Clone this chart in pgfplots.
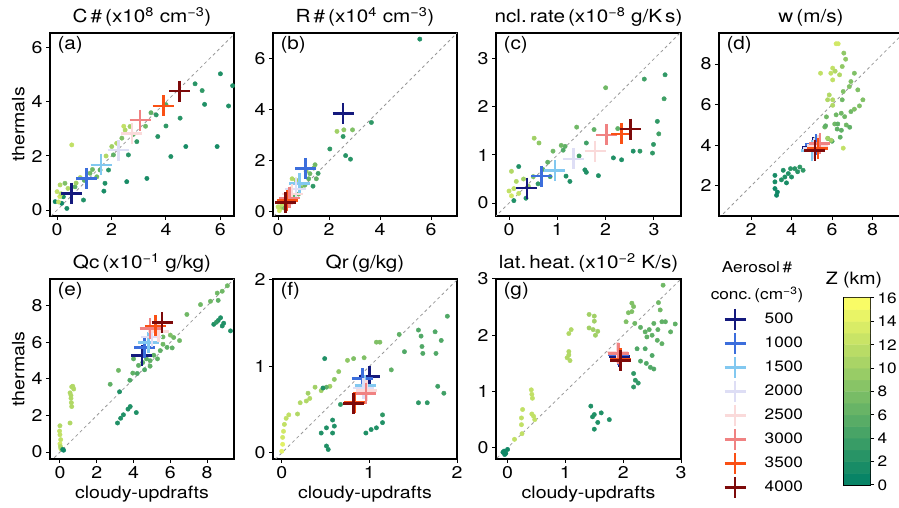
\documentclass[border=0pt]{standalone}
\usepackage{pgfplots}
\pgfplotsset{compat=1.18}
\usepackage{fontspec}
\setmainfont{TeX Gyre Heros}[FakeStretch=1.15]

\definecolor{c500}{RGB}{20,25,125}
\definecolor{c1000}{RGB}{60,110,220}
\definecolor{c1500}{RGB}{130,200,240}
\definecolor{c2000}{RGB}{222,222,245}
\definecolor{c2500}{RGB}{250,218,218}
\definecolor{c3000}{RGB}{240,130,130}
\definecolor{c3500}{RGB}{250,80,20}
\definecolor{c4000}{RGB}{125,10,10}

\pgfplotsset{
  colormap={summer}{rgb=(0,0.5,0.4) rgb=(1,1,0.4)},
  panel/.style={scale only axis, anchor=south west, width=184pt, height=183pt,
    axis line style={line width=1.3pt}, xtick pos=left, ytick pos=left,
    tick align=outside, major tick length=4pt, tick style={black, line width=1pt},
    /pgf/number format/assume math mode=true,
    tick label style={font=\fontsize{17}{20}\selectfont},
    title style={font=\fontsize{18}{20}\selectfont, yshift=-3pt},
    label style={font=\fontsize{17}{20}\selectfont},
    point meta min=0, point meta max=16},
  dots/.style={scatter, only marks, mark=*, mark size=2.2pt, point meta=explicit,
    scatter/use mapped color={draw=mapped color, fill=mapped color}, forget plot},
  diag/.style={dashed, gray!80, line width=0.8pt, forget plot},
  cross/.style={only marks, mark=+, mark size=10.5pt, color=#1,
    mark options={line width=2.6pt}},
}
\newcommand{\crosses}[8]{%
  \addplot[cross=c500] coordinates {#1};
  \addplot[cross=c1000] coordinates {#2};
  \addplot[cross=c1500] coordinates {#3};
  \addplot[cross=c2000] coordinates {#4};
  \addplot[cross=c2500] coordinates {#5};
  \addplot[cross=c3000] coordinates {#6};
  \addplot[cross=c3500] coordinates {#7};
  \addplot[cross=c4000] coordinates {#8};
}
\newcommand{\plabel}[1]{\node[anchor=north west, inner sep=0pt, font=\fontsize{18}{20}\selectfont] at (rel axis cs:0.04,0.985) {#1};}

\begin{document}
\begin{tikzpicture}
\useasboundingbox (0,0) rectangle (899pt,508pt);

%% (a) cloud droplet number
\begin{axis}[panel, at={(50pt,292pt)},
  xmin=-0.26, xmax=6.5, ymin=-0.22, ymax=6.55,
  xtick={0,2,4,6}, ytick={0,2,4,6},
  title={C\,\#\,(x10\textsuperscript{8} cm\textsuperscript{−3})},
  ylabel={thermals}]
\addplot[diag] coordinates {(-1,-1) (7,7)};
\addplot[dots] table[meta=z] {
x y z
6.0 5.04 2
5.07 4.67 2.5
5.33 4.42 3
5.42 3.91 2
6.3 3.85 2
6.45 4.6 2
4.52 3.40 2.5
3.64 3.52 3
4.0 3.11 3
3.7 2.72 2.5
4.73 2.35 1.5
5.88 2.35 1.5
4.18 1.98 2
3.3 1.17 1.5
2.56 1.05 1.5
1.72 0.70 1.5
2.62 2.04 2.5
2.93 2.53 3
1.76 0.99 2
1.89 1.48 2.5
0.97 0.37 2
0.36 0.06 1.5
0.17 0.25 1
-0.07 0.31 1
0.23 0.49 2
3.25 3.1 7
2.8 2.8 6
2.38 2.66 8
2.07 2.04 6
1.58 1.48 6
1.46 1.23 7
1.21 1.36 7
0.66 0.86 6
0.29 0.99 8
1.0 1.1 6
1.3 1.5 7
3.45 3.6 6
4.0 3.9 5
0.54 2.41 12
0.11 0.93 11
0.0 0.68 12
0.1 0.5 13
0.05 0.3 12
0.15 0.6 11
0.4 0.8 11
0.7 1.0 10
0.85 1.2 11
2.01 2.35 10
2.19 2.47 11
2.5 2.96 11
2.68 3.09 10
2.45 3.1 12
1.8 2.0 11
};
\crosses{(0.54,0.62)}{(1.09,1.17)}{(1.62,1.67)}{(2.25,2.22)}{(2.75,2.84)}{(3.05,3.33)}{(3.9,3.85)}{(4.5,4.4)}
\plabel{(a)}
\end{axis}

%% (b) rain drop number
\begin{axis}[panel, at={(273pt,292pt)},
  xmin=-0.2, xmax=7.02, ymin=-0.16, ymax=7.02,
  xtick={0,2,4,6}, ytick={0,2,4,6},
  title={R\,\#\,(x10\textsuperscript{4} cm\textsuperscript{−3})}]
\addplot[diag] coordinates {(-1,-1) (8,8)};
\addplot[dots] table[meta=z] {
x y z
5.56 6.78 2
3.66 3.51 3
2.31 3.16 10
2.58 3.22 9
2.92 3.22 8
2.55 2.96 3
2.03 2.47 3
2.65 2.21 2.5
2.84 2.07 2.5
1.45 1.85 7
1.4 1.72 8
1.57 1.51 4
1.37 1.01 3
1.2 1.3 6
1.05 1.05 7
0.9 0.95 8
0.7 1.25 10
0.55 1.3 11
0.8 0.7 7
0.6 0.6 6
0.5 0.9 12
0.35 0.6 11
0.2 0.4 12
0.1 0.15 10
0.25 0.15 8
0.05 0.05 13
0.15 0.3 12
0.4 0.3 9
1.25 1.5 7
1.5 1.3 6
1.1 1.6 9
0.0 0.2 12
};
\crosses{(2.55,3.85)}{(1.08,1.71)}{(0.85,1.12)}{(0.7,0.9)}{(0.55,0.7)}{(0.45,0.55)}{(0.35,0.45)}{(0.3,0.38)}
\plabel{(b)}
\end{axis}

%% (c) nucleation rate
\begin{axis}[panel, at={(496pt,292pt)}, width=185pt,
  xmin=-0.27, xmax=3.56, ymin=-0.27, ymax=3.54,
  xtick={0,1,2,3}, ytick={0,1,2,3},
  title={ncl.\,rate\,(x10\textsuperscript{−8} g/K\,s)}]
\addplot[diag] coordinates {(-1,-1) (4,4)};
\addplot[dots] table[meta=z] {
x y z
3.23 2.67 3
2.8 2.58 4
2.0 2.4 7
3.21 2.17 4
3.07 1.70 3
3.1 1.44 4
2.99 1.22 3
2.97 1.04 3
2.71 1.08 3
2.57 1.08 2
2.33 0.90 2
2.16 0.94 2
1.85 0.57 2
1.57 0.69 2
1.6 0.64 2
1.4 1.58 7
1.76 1.53 6
1.6 1.25 4
1.26 0.45 2
1.18 0.56 2
1.16 1.18 6
1.08 1.2 7
1.12 1.1 5
0.91 1.08 7
0.8 0.85 6
0.52 1.35 10
0.62 1.25 9
0.2 0.76 2
0.05 0.66 11
0.15 0.45 11
0.3 0.5 10
0.1 0.3 12
0.05 0.15 13
0.2 0.2 12
0.4 0.35 10
0.5 0.55 8
0.7 0.7 6
0.85 0.55 4
0.6 0.4 3
0.35 0.1 2
0.1 0.05 2
0.0 0.25 12
1.45 0.98 4
2.25 1.55 6
};
\crosses{(0.37,0.31)}{(0.67,0.56)}{(0.95,0.68)}{(1.33,0.92)}{(1.78,1.08)}{(2.02,1.42)}{(2.33,1.44)}{(2.52,1.54)}
\plabel{(c)}
\end{axis}

%% (d) vertical velocity
\begin{axis}[panel, at={(719pt,292pt)},
  xmin=0.42, xmax=9.5, ymin=0.52, ymax=9.53,
  xtick={2,4,6,8}, ytick={2,4,6,8},
  title={w\,(m/s)}]
\addplot[diag] coordinates {(0,0) (10,10)};
\addplot[dots] table[meta=z] {
x y z
3.18 2.52 1.5
3.18 2.2 1.5
3.18 1.87 1
3.26 1.54 1
3.3 1.7 1
3.59 2.77 2
3.67 2.44 2
3.84 2.61 2
3.95 2.85 2.5
4.16 2.85 2.5
4.41 2.93 3
4.57 2.77 3
4.3 2.7 2.5
4.0 2.44 2
3.75 2.15 1.5
3.5 2.3 2
5.64 4.9 7
6.13 5.05 7
6.25 4.8 6
6.46 4.74 6
6.7 5.0 7
5.8 4.33 5
6.0 4.2 5
6.4 4.4 6
5.72 5.4 7
6.2 5.5 7
6.62 5.41 7
6.45 5.58 7
6.93 5.66 7
7.1 5.78 8
7.35 5.94 8
7.52 6.24 8
6.5 6.24 7
6.55 6.65 8
6.85 6.89 8
7.27 6.73 8
6.93 7.14 8
7.1 7.55 8
6.5 7.88 9
6.67 8.24 9
6.58 8.54 9
5.68 4.96 6
6.28 5.05 6
6.87 4.89 6
6.2 9.0 13
6.3 9.0 13
5.43 7.55 12
6.03 7.8 12
5.94 7.55 12
6.37 7.47 11
6.03 7.22 12
6.15 7.65 11
5.86 6.48 11
6.03 6.24 11
5.78 6.24 11
6.03 5.97 11
5.78 4.35 10
5.95 4.25 10
6.55 3.86 12
5.2 4.3 10
};
\crosses{(5.05,3.9)}{(5.2,4.05)}{(5.0,3.75)}{(5.1,3.85)}{(5.3,4.0)}{(5.4,4.1)}{(5.3,3.85)}{(5.15,3.75)}
\plabel{(d)}
\end{axis}

%% (e) cloud water
\begin{axis}[panel, at={(50pt,49pt)}, height=180pt,
  xmin=-0.54, xmax=9.46, ymin=-0.38, ymax=9.47,
  xtick={0,2,4,6,8}, ytick={0,2,4,6,8},
  title={Qc\,(x10\textsuperscript{−1} g/kg)},
  ylabel={thermals}, xlabel={cloudy-updrafts}]
\addplot[diag] coordinates {(-1,-1) (10,10)};
\addplot[dots] table[meta=z] {
x y z
0.0 1.44 11
0.0 0.95 12
0.04 0.68 12
0.0 0.45 13
0.05 0.18 12
-0.02 1.15 12
0.03 0.3 11
0.55 1.59 11
0.64 2.49 11
0.55 3.24 11
0.64 3.57 11
0.75 3.45 11
0.6 2.94 11
0.6 3.1 11
0.7 3.6 11
0.62 2.7 11
0.15 0.14 1
0.2 0.1 1
3.13 1.59 2
3.3 1.85 2
3.45 2.04 2
3.82 2.49 2
3.7 2.35 2
4.15 2.16 2
3.24 3.3 2
8.36 6.99 2
8.82 6.9 2
9.27 6.63 2
8.73 7.35 2
8.6 7.2 2
8.9 7.05 2
8.5 7.1 3
2.73 3.71 6
3.18 4.47 7
3.96 4.32 6
3.8 3.93 5
4.27 4.74 6
4.5 4.9 6
4.7 5.1 6
4.9 5.0 6
5.1 5.3 6
4.6 4.5 5
4.9 4.7 6
5.3 5.1 6
5.45 5.55 6
5.82 5.73 6
5.6 5.9 7
6.18 6.27 7
6.1 5.7 6
6.5 6.1 7
6.9 7.53 7
7.64 8.07 7
8.18 8.25 7
8.82 8.8 7
9.1 9.1 7
8.55 8.7 7
8.6 8.3 6
6.0 6.4 8
4.2 4.3 5
4.0 5.1 6
5.6 6.3 7
};
\crosses{(4.45,5.28)}{(4.6,5.73)}{(4.82,6.0)}{(5.0,6.3)}{(5.35,6.6)}{(4.9,6.75)}{(5.2,6.9)}{(5.55,7.08)}
\plabel{(e)}
\end{axis}

%% (f) rain water
\begin{axis}[panel, at={(273pt,49pt)}, height=180pt,
  xmin=-0.1, xmax=2.0, ymin=-0.07, ymax=2.01,
  xtick={0,1,2}, ytick={0,1,2},
  title={Qr\,(g/kg)}, xlabel={cloudy-updrafts}]
\addplot[diag] coordinates {(-1,-1) (3,3)};
\addplot[dots] table[meta=z] {
x y z
0.0 0.02 14
0.01 0.1 14
0.01 0.18 13
0.02 0.25 13
0.03 0.33 12
0.05 0.4 12
0.08 0.44 12
0.18 0.45 11
0.21 0.58 11
0.28 0.6 11
0.32 0.63 11
0.38 0.76 10
0.3 0.69 10
0.45 0.72 10
0.55 0.77 10
0.6 0.85 9
0.65 0.94 9
0.75 1.07 9
0.82 1.09 8
0.94 1.1 8
1.08 1.28 8
1.12 1.28 8
0.51 0.76 6
1.25 0.96 6
1.34 1.37 6
1.4 1.17 5
1.56 1.42 5
1.59 1.35 5
1.6 1.23 5
1.61 1.15 5
1.75 1.40 5
1.82 1.30 5
1.76 1.15 5
1.89 1.58 5
1.78 0.77 4
1.85 0.69 4
0.49 1.09 2
0.47 0.75 2
0.45 0.23 2
0.51 0.29 2
0.58 0.38 2
0.6 0.31 2
0.58 0.23 2
0.53 0.04 2
0.51 0.08 2
0.67 0.56 3
0.96 0.23 2
1.02 0.27 2
1.08 0.29 2
1.15 0.35 2
1.15 0.44 3
1.56 0.58 3
1.66 0.58 3
};
\crosses{(1.0,0.88)}{(0.92,0.86)}{(0.95,0.78)}{(0.93,0.75)}{(0.97,0.72)}{(0.96,0.69)}{(0.83,0.58)}{(0.82,0.57)}
\plabel{(f)}
\end{axis}

%% (g) latent heating
\begin{axis}[panel, at={(496pt,49pt)}, width=185pt, height=180pt,
  xmin=-0.2, xmax=3.0, ymin=-0.2, ymax=3.0,
  xtick={0,1,2,3}, ytick={0,1,2,3},
  title={lat.\,heat.\,(x10\textsuperscript{−2} K/s)}, xlabel={cloudy-updrafts},
  legend style={at={(axis description cs:1.235,0.835)}, anchor=north west,
    draw=none, fill=none, inner sep=0pt, row sep=3pt,
    font=\fontsize{15}{17}\selectfont,
    /tikz/every odd column/.append style={column sep=17pt}},
  legend cell align=left]
\addplot[diag] coordinates {(-1,-1) (4,4)};
\addplot[dots] table[meta=z] {
x y z
-0.06 -0.06 1
-0.03 -0.1 1
0.0 -0.03 1
-0.08 -0.08 1
-0.05 -0.12 1
0.12 0.15 12
0.25 0.25 12
0.24 0.41 12
0.24 0.53 12
0.26 0.68 12
0.41 1.03 12
0.43 0.88 12
0.42 0.95 12
0.45 0.56 12
0.47 0.5 12
0.42 0.6 12
1.03 1.6 11
1.06 1.65 11
1.08 1.55 11
1.06 1.71 11
1.1 2.1 11
1.06 2.03 11
1.41 2.37 10
1.5 2.34 10
1.5 2.25 10
1.41 2.13 10
1.48 2.1 10
1.56 2.07 10
1.52 2.0 10
2.09 2.4 8
2.18 2.51 8
2.15 2.57 8
2.15 2.42 8
2.05 2.24 8
2.2 2.21 7
2.69 2.89 7
2.61 2.58 7
2.64 2.45 7
2.3 2.14 6
2.53 2.21 6
2.67 2.24 6
2.73 2.24 6
2.82 2.06 6
2.38 2.06 6
2.41 1.97 6
2.59 1.91 6
2.67 1.85 6
2.5 2.0 6
2.45 2.1 6
2.6 2.1 6
2.9 2.2 6
2.24 1.76 5
2.38 1.76 5
2.5 1.64 5
2.3 1.54 5
2.47 1.43 5
2.53 1.4 5
2.4 1.5 5
2.18 1.32 3
2.21 1.2 3
2.18 1.08 3
2.26 1.15 3
1.44 0.74 2
1.5 0.59 2
1.47 0.55 2
1.62 0.62 2
1.76 0.5 2
1.5 0.33 2
1.56 0.45 2
};
\crosses{(1.93,1.62)}{(1.92,1.65)}{(1.9,1.7)}{(1.92,1.68)}{(1.9,1.7)}{(1.92,1.68)}{(1.95,1.58)}{(1.95,1.55)}
\legend{500,1000,1500,2000,2500,3000,3500,4000}
\plabel{(g)}
\end{axis}

%% colour bar for height (Z in km), 16 bands
\begin{axis}[at={(844pt,23pt)}, anchor=south west, scale only axis,
  width=26pt, height=187pt, enlargelimits=false,
  xmin=0, xmax=1, ymin=0, ymax=16,
  xtick=\empty, ytick={0,2,...,16}, yticklabel pos=right, ytick pos=right,
  tick align=outside, major tick length=4pt, tick style={black, line width=1pt},
  axis line style={line width=1.2pt},
  /pgf/number format/assume math mode=true,
  tick label style={font=\fontsize{15}{17}\selectfont},
  point meta min=0, point meta max=16]
\addplot[matrix plot*, mesh/cols=2, point meta=explicit] table[meta=z] {
x y z
0.25 0.5 0.5
0.75 0.5 0.5
0.25 1.5 1.5
0.75 1.5 1.5
0.25 2.5 2.5
0.75 2.5 2.5
0.25 3.5 3.5
0.75 3.5 3.5
0.25 4.5 4.5
0.75 4.5 4.5
0.25 5.5 5.5
0.75 5.5 5.5
0.25 6.5 6.5
0.75 6.5 6.5
0.25 7.5 7.5
0.75 7.5 7.5
0.25 8.5 8.5
0.75 8.5 8.5
0.25 9.5 9.5
0.75 9.5 9.5
0.25 10.5 10.5
0.75 10.5 10.5
0.25 11.5 11.5
0.75 11.5 11.5
0.25 12.5 12.5
0.75 12.5 12.5
0.25 13.5 13.5
0.75 13.5 13.5
0.25 14.5 14.5
0.75 14.5 14.5
0.25 15.5 15.5
0.75 15.5 15.5
};
\end{axis}

\node[align=center, font=\fontsize{15}{27}\selectfont] at (757pt,226pt)
  {Aerosol\,\#\\conc.\,(cm\textsuperscript{−3})};
\node[font=\fontsize{17}{20}\selectfont] at (854pt,228pt) {Z (km)};
\end{tikzpicture}
\end{document}
